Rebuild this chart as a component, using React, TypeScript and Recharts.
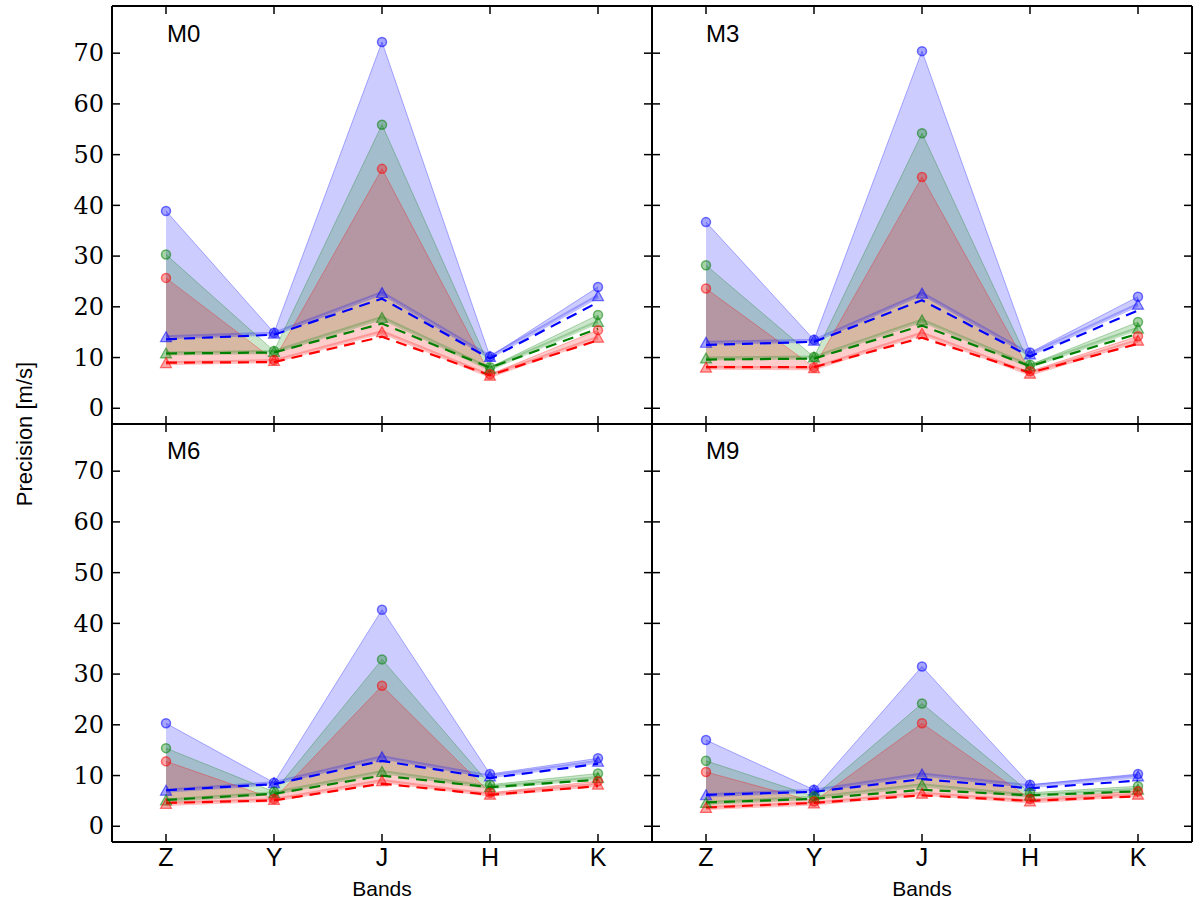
import React from 'react';
import { ComposedChart, Area, Line, XAxis, YAxis } from 'recharts';

const BANDS = ['Z', 'Y', 'J', 'H', 'K'];
const Y_TICKS = [0, 10, 20, 30, 40, 50, 60, 70];
const X_TICKS = [0, 1, 2, 3, 4];

// M0
const M0_BLUE_HI = [38.9, 14.9, 72.2, 10.2, 23.9];
const M0_BLUE_LO = [14.0, 14.7, 22.7, 10.1, 22.1];
const M0_BLUE_DASH = [13.6, 14.5, 21.6, 9.8, 20.9];
const M0_GREEN_HI = [30.3, 11.3, 55.9, 8.1, 18.4];
const M0_GREEN_LO = [10.8, 11.1, 17.8, 7.8, 17.0];
const M0_GREEN_DASH = [10.8, 11.0, 16.7, 8.0, 15.7];
const M0_RED_HI = [25.7, 9.5, 47.2, 6.7, 15.4];
const M0_RED_LO = [8.9, 9.3, 15.0, 6.4, 13.9];
const M0_RED_DASH = [9.0, 9.1, 14.1, 6.5, 13.4];

// M3
const M3_BLUE_HI = [36.7, 13.5, 70.4, 11.0, 22.0];
const M3_BLUE_LO = [12.9, 13.3, 22.6, 10.6, 20.4];
const M3_BLUE_DASH = [12.5, 13.1, 21.3, 10.2, 19.3];
const M3_GREEN_HI = [28.2, 10.1, 54.2, 8.6, 17.0];
const M3_GREEN_LO = [9.8, 10.0, 17.3, 8.3, 15.7];
const M3_GREEN_DASH = [9.6, 9.8, 16.3, 8.3, 14.7];
const M3_RED_HI = [23.6, 8.1, 45.6, 7.3, 14.2];
const M3_RED_LO = [8.0, 7.9, 14.7, 6.8, 13.3];
const M3_RED_DASH = [8.1, 8.1, 13.9, 7.0, 12.7];

// M6
const M6_BLUE_HI = [20.3, 8.6, 42.7, 10.3, 13.4];
const M6_BLUE_LO = [7.0, 8.5, 13.6, 9.8, 12.7];
const M6_BLUE_DASH = [7.1, 8.3, 12.9, 9.5, 12.3];
const M6_GREEN_HI = [15.4, 6.8, 32.9, 8.2, 10.4];
const M6_GREEN_LO = [5.1, 6.5, 10.7, 7.7, 9.5];
const M6_GREEN_DASH = [5.2, 6.4, 10.0, 7.7, 9.2];
const M6_RED_HI = [12.8, 5.4, 27.7, 6.6, 8.9];
const M6_RED_LO = [4.4, 5.2, 8.9, 6.2, 8.2];
const M6_RED_DASH = [4.6, 5.1, 8.4, 6.2, 7.9];

// M9
const M9_BLUE_HI = [17.0, 7.2, 31.5, 8.2, 10.3];
const M9_BLUE_LO = [6.1, 7.0, 10.2, 7.9, 9.8];
const M9_BLUE_DASH = [6.2, 6.8, 9.3, 7.5, 9.0];
const M9_GREEN_HI = [12.9, 5.9, 24.2, 6.6, 7.9];
const M9_GREEN_LO = [4.6, 5.6, 8.1, 6.0, 7.2];
const M9_GREEN_DASH = [4.7, 5.4, 7.2, 6.1, 6.9];
const M9_RED_HI = [10.7, 4.9, 20.3, 5.4, 6.9];
const M9_RED_LO = [3.6, 4.5, 6.4, 4.9, 6.2];
const M9_RED_DASH = [3.7, 4.6, 6.1, 5.0, 5.9];

const BLUE = '#0000ff';
const GREEN = '#008000';
const RED = '#ff0000';

const PANEL_W = 540;
const PANEL_H = 418;
const PAD = 60;
const TICK_LEN = 8;
const SANS = '"Liberation Sans", Arial, sans-serif';
const SERIF = '"DejaVu Serif", serif';

type Series = { hi: number[]; lo: number[]; dash: number[] };

function triangle(color: string) {
  return (props: any) => {
    const { cx, cy, index } = props;
    if (cx == null || cy == null) return <g key={`t${index}`} />;
    const s = 5.5;
    return (
      <path
        key={`t${index}`}
        d={`M${cx},${cy - s} L${cx + s},${cy + s * 0.8} L${cx - s},${cy + s * 0.8} Z`}
        fill={color}
        fillOpacity={0.35}
        stroke={color}
        strokeOpacity={0.55}
        strokeWidth={1.2}
      />
    );
  };
}

// ticks point inwards, like matplotlib; labels only on the outer panels
function makeTick(side: 'left' | 'right' | 'top' | 'bottom', show: boolean) {
  return (props: any) => {
    const { x, y, payload, index } = props;
    let line: React.ReactNode = null;
    let label: React.ReactNode = null;
    if (side === 'left') {
      line = <line x1={x} x2={x + TICK_LEN} y1={y} y2={y} stroke="#000" strokeWidth={1.5} />;
      if (show)
        label = (
          <g fontFamily={SERIF} fontSize={24}>
            <text x={x - 8} y={y} dy="0.34em" textAnchor="end" fill="#000">
              {payload.value}
            </text>
          </g>
        );
    } else if (side === 'right') {
      line = <line x1={x} x2={x - TICK_LEN} y1={y} y2={y} stroke="#000" strokeWidth={1.5} />;
    } else if (side === 'top') {
      line = <line x1={x} x2={x} y1={y} y2={y + TICK_LEN} stroke="#000" strokeWidth={1.5} />;
    } else {
      line = <line x1={x} x2={x} y1={y} y2={y - TICK_LEN} stroke="#000" strokeWidth={1.5} />;
      if (show)
        label = (
          <g fontFamily={SANS} fontSize={25}>
            <text x={x} y={y + 24} textAnchor="middle" fill="#000">
              {BANDS[payload.value]}
            </text>
          </g>
        );
    }
    return (
      <g key={`${side}${index}`}>
        {line}
        {label}
      </g>
    );
  };
}

function Panel({
  left,
  top,
  blue,
  green,
  red,
  xLabels,
  yLabels,
}: {
  left: number;
  top: number;
  blue: Series;
  green: Series;
  red: Series;
  xLabels: boolean;
  yLabels: boolean;
}) {
  const data = BANDS.map((_, i) => ({
    x: i,
    bRange: [blue.lo[i], blue.hi[i]],
    bHi: blue.hi[i],
    bLo: blue.lo[i],
    bDash: blue.dash[i],
    gRange: [green.lo[i], green.hi[i]],
    gHi: green.hi[i],
    gLo: green.lo[i],
    gDash: green.dash[i],
    rRange: [red.lo[i], red.hi[i]],
    rHi: red.hi[i],
    rLo: red.lo[i],
    rDash: red.dash[i],
  }));

  const spine = { stroke: '#000', strokeWidth: 2 };
  const groups: [string, string][] = [
    ['b', BLUE],
    ['g', GREEN],
    ['r', RED],
  ];
  const m = PAD - 1;

  return (
    <div style={{ position: 'absolute', left: left - PAD, top: top - PAD }}>
      <ComposedChart
        width={PANEL_W + 2 * PAD}
        height={PANEL_H + 2 * PAD}
        data={data}
        margin={{ top: m, right: m, bottom: m, left: m }}
      >
        <XAxis
          dataKey="x"
          type="number"
          domain={[-0.5, 4.5]}
          ticks={X_TICKS}
          interval={0}
          allowDataOverflow
          height={1}
          tickSize={0}
          tickMargin={0}
          tickLine={false}
          axisLine={spine}
          tick={makeTick('bottom', xLabels)}
        />
        <XAxis
          xAxisId="top"
          orientation="top"
          dataKey="x"
          type="number"
          domain={[-0.5, 4.5]}
          ticks={X_TICKS}
          interval={0}
          allowDataOverflow
          height={1}
          tickSize={0}
          tickMargin={0}
          tickLine={false}
          axisLine={spine}
          tick={makeTick('top', false)}
        />
        <YAxis
          type="number"
          domain={[-3.1, 79.3]}
          ticks={Y_TICKS}
          interval={0}
          allowDataOverflow
          width={1}
          tickSize={0}
          tickMargin={0}
          tickLine={false}
          axisLine={spine}
          tick={makeTick('left', yLabels)}
        />
        <YAxis
          yAxisId="right"
          orientation="right"
          type="number"
          domain={[-3.1, 79.3]}
          ticks={Y_TICKS}
          interval={0}
          allowDataOverflow
          width={1}
          tickSize={0}
          tickMargin={0}
          tickLine={false}
          axisLine={spine}
          tick={makeTick('right', false)}
        />

        {groups.map(([k, c]) => (
          <Area
            key={`${k}a`}
            type="linear"
            dataKey={`${k}Range`}
            stroke="none"
            fill={c}
            fillOpacity={0.2}
            dot={false}
            activeDot={false}
            isAnimationActive={false}
          />
        ))}

        {groups.map(([k, c]) => (
          <Line
            key={`${k}lo`}
            type="linear"
            dataKey={`${k}Lo`}
            stroke={c}
            strokeOpacity={0.25}
            strokeWidth={4}
            dot={triangle(c)}
            activeDot={false}
            isAnimationActive={false}
          />
        ))}

        {groups.map(([k, c]) => (
          <Line
            key={`${k}hi`}
            type="linear"
            dataKey={`${k}Hi`}
            stroke={c}
            strokeOpacity={0.3}
            strokeWidth={1}
            dot={{ r: 4.5, fill: c, fillOpacity: 0.35, stroke: c, strokeOpacity: 0.55, strokeWidth: 1.5 }}
            activeDot={false}
            isAnimationActive={false}
          />
        ))}

        {groups.map(([k, c]) => (
          <Line
            key={`${k}d`}
            type="linear"
            dataKey={`${k}Dash`}
            stroke={c}
            strokeWidth={2.2}
            strokeDasharray="11 7"
            dot={false}
            activeDot={false}
            isAnimationActive={false}
          />
        ))}
      </ComposedChart>
    </div>
  );
}

const s = (hi: number[], lo: number[], dash: number[]): Series => ({ hi, lo, dash });

export default function App() {
  return (
    <div style={{ position: 'absolute', left: 0, top: 0, width: 1200, height: 906, background: '#fff' }}>
      <Panel
        left={112}
        top={6}
        blue={s(M0_BLUE_HI, M0_BLUE_LO, M0_BLUE_DASH)}
        green={s(M0_GREEN_HI, M0_GREEN_LO, M0_GREEN_DASH)}
        red={s(M0_RED_HI, M0_RED_LO, M0_RED_DASH)}
        xLabels={false}
        yLabels
      />
      <Panel
        left={652}
        top={6}
        blue={s(M3_BLUE_HI, M3_BLUE_LO, M3_BLUE_DASH)}
        green={s(M3_GREEN_HI, M3_GREEN_LO, M3_GREEN_DASH)}
        red={s(M3_RED_HI, M3_RED_LO, M3_RED_DASH)}
        xLabels={false}
        yLabels={false}
      />
      <Panel
        left={112}
        top={424}
        blue={s(M6_BLUE_HI, M6_BLUE_LO, M6_BLUE_DASH)}
        green={s(M6_GREEN_HI, M6_GREEN_LO, M6_GREEN_DASH)}
        red={s(M6_RED_HI, M6_RED_LO, M6_RED_DASH)}
        xLabels
        yLabels
      />
      <Panel
        left={652}
        top={424}
        blue={s(M9_BLUE_HI, M9_BLUE_LO, M9_BLUE_DASH)}
        green={s(M9_GREEN_HI, M9_GREEN_LO, M9_GREEN_DASH)}
        red={s(M9_RED_HI, M9_RED_LO, M9_RED_DASH)}
        xLabels
        yLabels={false}
      />
      <svg
        width={1200}
        height={906}
        style={{ position: 'absolute', left: 0, top: 0, pointerEvents: 'none' }}
      >
        <g fontFamily={SANS} fill="#000">
          <text x={167} y={42} fontSize={24}>M0</text>
          <text x={706} y={42} fontSize={24}>M3</text>
          <text x={167} y={459} fontSize={24}>M6</text>
          <text x={706} y={459} fontSize={24}>M9</text>
          <text x={382} y={896} fontSize={21} textAnchor="middle">Bands</text>
          <text x={922} y={896} fontSize={21} textAnchor="middle">Bands</text>
          <text x={32} y={434} fontSize={22} textAnchor="middle" transform="rotate(-90 32 434)">
            Precision [m/s]
          </text>
        </g>
      </svg>
    </div>
  );
}
